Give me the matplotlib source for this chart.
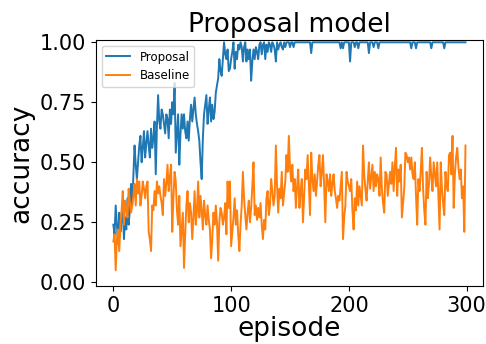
import matplotlib
matplotlib.use("Agg")
import matplotlib.pyplot as plt

episodes = list(range(300))

proposal = [
    0.24, 0.20, 0.32, 0.24, 0.16, 0.29, 0.21, 0.26, 0.32, 0.18,
    0.27, 0.22, 0.35, 0.24, 0.30, 0.41, 0.32, 0.45, 0.57, 0.49,
    0.43, 0.50, 0.57, 0.61, 0.50, 0.56, 0.63, 0.52, 0.58, 0.63,
    0.57, 0.52, 0.64, 0.56, 0.60, 0.67, 0.45, 0.65, 0.78, 0.67,
    0.64, 0.72, 0.70, 0.66, 0.62, 0.70, 0.68, 0.60, 0.72, 0.66,
    0.75, 0.70, 0.83, 0.54, 0.62, 0.70, 0.49, 0.62, 0.70, 0.64,
    0.70, 0.63, 0.60, 0.67, 0.59, 0.68, 0.74, 0.67, 0.72, 0.77,
    0.70, 0.66, 0.63, 0.59, 0.50, 0.43, 0.60, 0.70, 0.74, 0.78,
    0.66, 0.72, 0.77, 0.67, 0.74, 0.68, 0.71, 0.79, 0.82, 0.85,
    0.93, 0.88, 0.86, 0.93, 1.00, 0.95, 0.93, 0.97, 0.88, 0.89,
    0.93, 0.96, 1.00, 0.89, 0.96, 0.93, 0.99, 0.97, 1.00, 0.98,
    0.92, 0.98, 1.00, 0.92, 0.97, 0.93, 0.97, 0.84, 0.92, 0.97,
    0.93, 0.98, 0.96, 0.93, 0.99, 1.00, 0.95, 0.99, 1.00, 0.93,
    0.99, 0.96, 1.00, 0.99, 0.96, 1.00, 0.99, 0.97, 0.92, 1.00,
    0.97, 0.99, 1.00, 0.98, 0.97, 1.00, 0.98, 1.00, 1.00, 1.00,
    0.98, 1.00, 1.00, 0.98, 1.00, 1.00, 1.00, 1.00, 1.00, 1.00,
    1.00, 1.00, 1.00, 1.00, 1.00, 1.00, 1.00, 1.00, 0.955, 1.00,
    1.00, 1.00, 1.00, 1.00, 1.00, 1.00, 1.00, 1.00, 1.00, 1.00,
    1.00, 1.00, 1.00, 1.00, 1.00, 1.00, 1.00, 1.00, 1.00, 1.00,
    1.00, 1.00, 1.00, 0.975, 1.00, 0.975, 1.00, 1.00, 1.00, 1.00,
    1.00, 0.92, 1.00, 1.00, 1.00, 0.98, 1.00, 1.00, 0.975, 1.00,
    1.00, 1.00, 1.00, 1.00, 1.00, 1.00, 1.00, 0.955, 1.00, 1.00,
    1.00, 0.98, 1.00, 1.00, 1.00, 0.975, 1.00, 1.00, 1.00, 1.00,
    1.00, 1.00, 1.00, 1.00, 1.00, 1.00, 1.00, 1.00, 1.00, 1.00,
    1.00, 1.00, 1.00, 1.00, 1.00, 1.00, 1.00, 1.00, 1.00, 1.00,
    1.00, 1.00, 1.00, 0.975, 1.00, 1.00, 1.00, 0.975, 1.00, 1.00,
    1.00, 1.00, 1.00, 1.00, 1.00, 1.00, 1.00, 1.00, 1.00, 1.00,
    0.975, 1.00, 1.00, 1.00, 1.00, 1.00, 1.00, 1.00, 1.00, 1.00,
    1.00, 0.975, 1.00, 1.00, 1.00, 1.00, 1.00, 1.00, 1.00, 1.00,
    1.00, 1.00, 1.00, 1.00, 1.00, 1.00, 1.00, 1.00, 1.00, 1.00,
]

baseline = [
    0.17, 0.20, 0.05, 0.18, 0.22, 0.13, 0.24, 0.30, 0.38, 0.24,
    0.34, 0.30, 0.27, 0.39, 0.33, 0.29, 0.32, 0.36, 0.41, 0.32,
    0.43, 0.37, 0.42, 0.32, 0.36, 0.42, 0.39, 0.35, 0.40, 0.42,
    0.21, 0.18, 0.13, 0.32, 0.30, 0.38, 0.32, 0.42, 0.37, 0.40,
    0.36, 0.33, 0.28, 0.43, 0.36, 0.41, 0.49, 0.38, 0.44, 0.49,
    0.21, 0.35, 0.46, 0.42, 0.30, 0.24, 0.36, 0.15, 0.22, 0.29,
    0.06, 0.20, 0.32, 0.38, 0.25, 0.33, 0.29, 0.18, 0.27, 0.38,
    0.24, 0.30, 0.42, 0.27, 0.36, 0.30, 0.22, 0.34, 0.28, 0.24,
    0.32, 0.26, 0.22, 0.10, 0.18, 0.29, 0.24, 0.32, 0.25, 0.09,
    0.25, 0.31, 0.29, 0.24, 0.27, 0.33, 0.20, 0.42, 0.31, 0.42,
    0.15, 0.21, 0.27, 0.35, 0.24, 0.30, 0.20, 0.13, 0.24, 0.32,
    0.46, 0.35, 0.28, 0.22, 0.29, 0.34, 0.25, 0.31, 0.40, 0.50,
    0.28, 0.32, 0.26, 0.31, 0.27, 0.33, 0.24, 0.18, 0.26, 0.22,
    0.35, 0.38, 0.28, 0.32, 0.43, 0.38, 0.32, 0.36, 0.57, 0.40,
    0.29, 0.39, 0.35, 0.46, 0.32, 0.37, 0.42, 0.53, 0.46, 0.61,
    0.48, 0.42, 0.49, 0.38, 0.43, 0.31, 0.40, 0.47, 0.31, 0.38,
    0.43, 0.25, 0.36, 0.47, 0.43, 0.53, 0.40, 0.28, 0.54, 0.43,
    0.38, 0.45, 0.36, 0.42, 0.49, 0.53, 0.40, 0.46, 0.53, 0.40,
    0.25, 0.45, 0.42, 0.38, 0.45, 0.36, 0.41, 0.45, 0.38, 0.35,
    0.31, 0.36, 0.34, 0.40, 0.46, 0.18, 0.27, 0.32, 0.46, 0.42,
    0.40, 0.38, 0.43, 0.30, 0.22, 0.35, 0.30, 0.42, 0.32, 0.40,
    0.36, 0.32, 0.57, 0.45, 0.39, 0.34, 0.42, 0.50, 0.39, 0.44,
    0.49, 0.38, 0.46, 0.40, 0.45, 0.43, 0.36, 0.52, 0.39, 0.33,
    0.29, 0.46, 0.45, 0.36, 0.41, 0.46, 0.41, 0.50, 0.38, 0.48,
    0.56, 0.36, 0.47, 0.42, 0.49, 0.27, 0.33, 0.39, 0.54, 0.53,
    0.50, 0.52, 0.47, 0.52, 0.45, 0.43, 0.50, 0.36, 0.24, 0.43,
    0.38, 0.46, 0.56, 0.39, 0.30, 0.24, 0.46, 0.35, 0.41, 0.52,
    0.44, 0.38, 0.50, 0.45, 0.40, 0.50, 0.36, 0.22, 0.50, 0.39,
    0.33, 0.28, 0.46, 0.40, 0.38, 0.53, 0.54, 0.45, 0.61, 0.31,
    0.45, 0.52, 0.56, 0.48, 0.43, 0.47, 0.35, 0.40, 0.21, 0.57,
]

fig = plt.figure(figsize=(4.86, 3.44), dpi=100)
ax = fig.add_subplot(111)
fig.subplots_adjust(left=0.197, right=0.994, bottom=0.169, top=0.884)

ax.plot(episodes, proposal, color="tab:blue", lw=1.4, label="Proposal")
ax.plot(episodes, baseline, color="tab:orange", lw=1.4, label="Baseline")

ax.set_ylim(-0.015, 1.01)
ax.set_xticks([0, 100, 200, 300])
ax.set_yticks([0.0, 0.25, 0.5, 0.75, 1.0])
ax.tick_params(labelsize=15)
ax.set_title("Proposal model", fontsize=19)
ax.set_xlabel("episode", fontsize=19, labelpad=0)
ax.set_ylabel("accuracy", fontsize=19)
ax.legend(loc="upper left", fontsize=8.5)

fig.savefig("out.png", dpi=100)
